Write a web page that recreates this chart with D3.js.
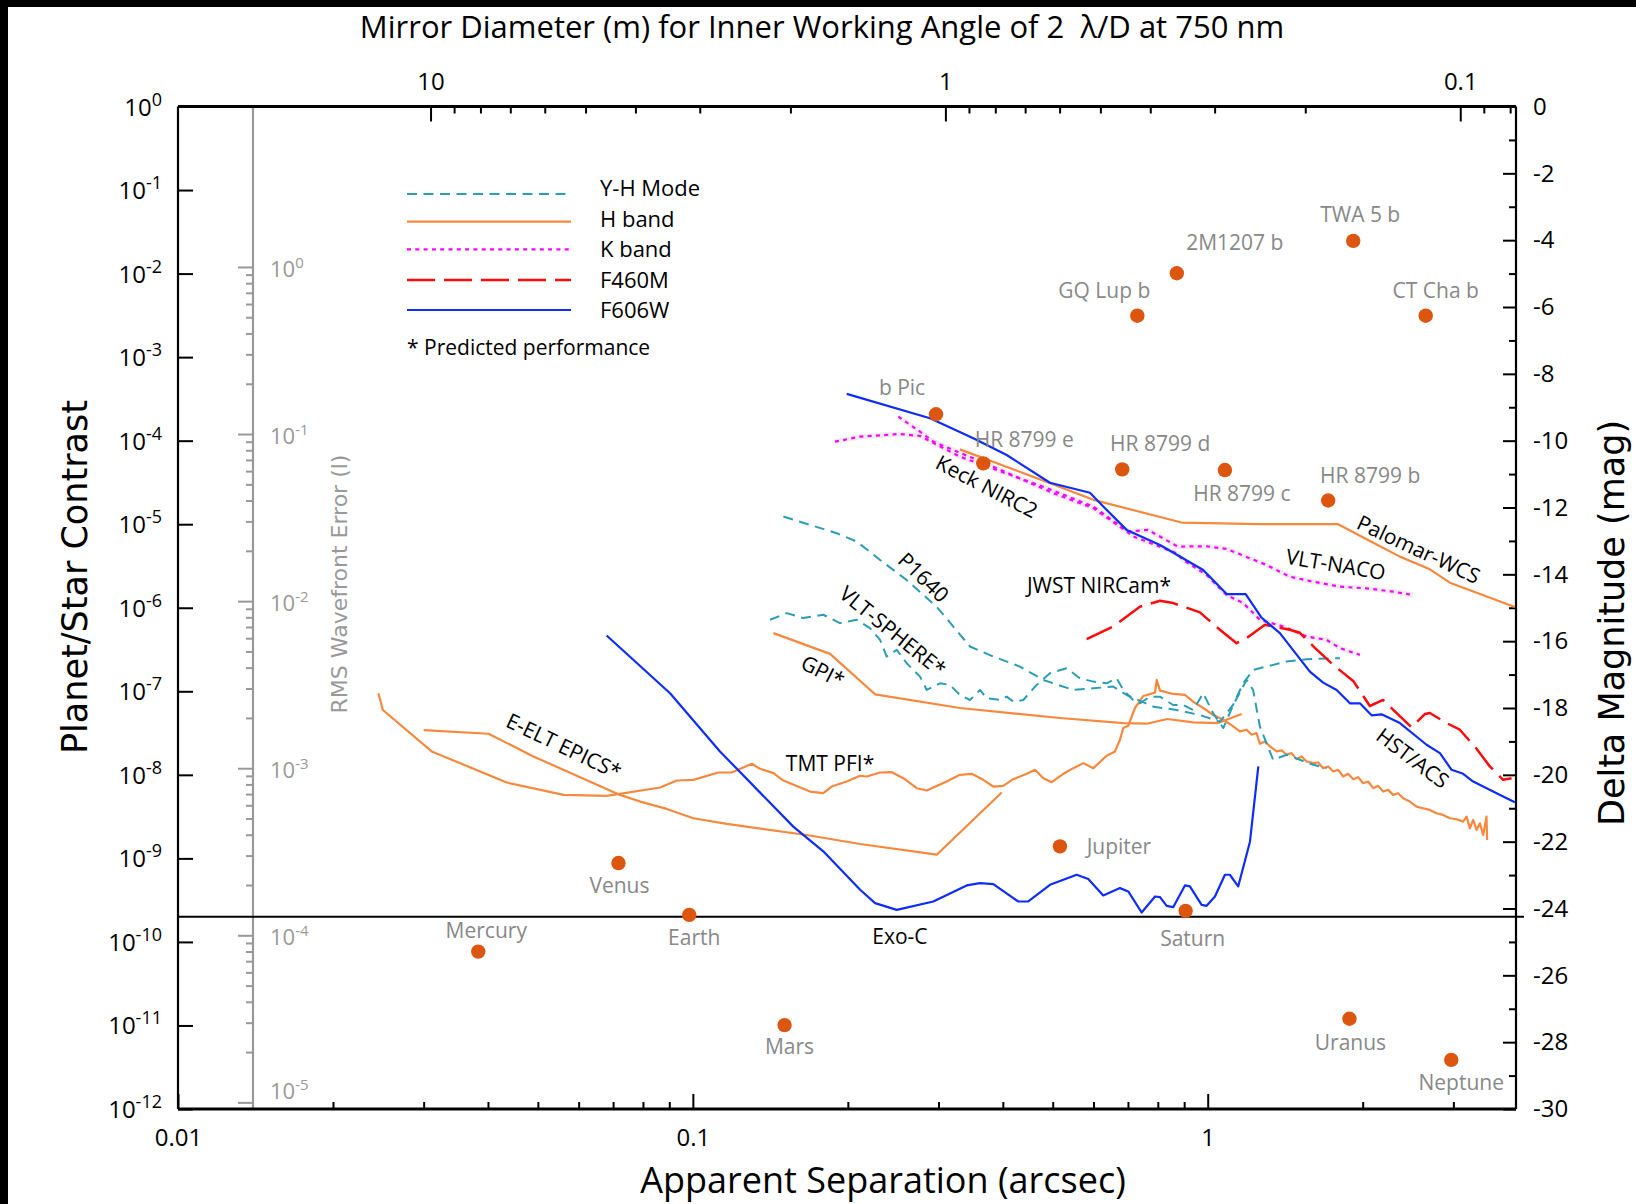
<!DOCTYPE html>
<html>
<head>
<meta charset="utf-8">
<script src="https://cdn.jsdelivr.net/npm/d3@7"></script>
<style>
  body { margin: 0; background: #fff; }
</style>
</head>
<body>
<script>
// ---- data: [separation (arcsec), delta magnitude] ----
const eeltEpics = [[0.0300,-18.66],[0.0401,-18.77],[0.049,-19.45],[0.0722,-20.60],[0.0790,-20.80],[0.0890,-21.02],[0.1002,-21.30],[0.1164,-21.47],[0.1664,-21.80],[0.2113,-22.07],[0.2976,-22.39],[0.398,-20.53]];
const tmtPfi = [[0.0245,-17.56],[0.0250,-18.06],[0.0311,-19.30],[0.0435,-20.23],[0.0561,-20.60],[0.0680,-20.63],[0.0864,-20.38],[0.0931,-20.17],[0.1002,-20.15],[0.1121,-19.93],[0.1190,-19.93],[0.1302,-19.67],[0.1351,-19.82],[0.1434,-19.95],[0.1499,-20.17],[0.1689,-20.50],[0.1792,-20.55],[0.1861,-20.35],[0.1990,-20.20],[0.2113,-20.03],[0.2177,-20.05],[0.2310,-19.93],[0.2434,-19.92],[0.2564,-20.10],[0.2721,-20.40],[0.2846,-20.47],[0.3112,-20.20],[0.3302,-20.00],[0.3479,-19.97],[0.3665,-20.15],[0.3833,-20.35],[0.4008,-20.33],[0.4192,-20.13],[0.4450,-19.97],[0.4619,-19.85],[0.4794,-20.10],[0.4978,-20.22],[0.5242,-19.97],[0.5482,-19.80],[0.5733,-19.65],[0.5995,-19.80],[0.6365,-19.43],[0.6605,-19.30],[0.6754,-18.95],[0.6855,-18.60],[0.7010,-18.53],[0.7223,-18.00],[0.7497,-17.64],[0.7901,-17.54],[0.7961,-17.16],[0.8079,-17.48],[0.8570,-17.58],[0.9031,-17.61],[0.9371,-17.81],[0.9801,-18.00],[1.025,-18.21],[1.072,-18.35],[1.121,-18.55],[1.155,-18.70],[1.190,-18.65],[1.217,-18.80],[1.244,-18.75],[1.263,-19.07],[1.292,-19.00],[1.321,-19.15],[1.361,-19.30],[1.392,-19.27],[1.423,-19.40],[1.455,-19.35],[1.488,-19.53],[1.522,-19.45],[1.556,-19.60],[1.603,-19.65],[1.639,-19.63],[1.676,-19.80],[1.714,-19.75],[1.753,-19.90],[1.792,-19.85],[1.833,-20.05],[1.874,-19.97],[1.917,-20.13],[1.960,-20.07],[2.004,-20.25],[2.049,-20.20],[2.096,-20.40],[2.143,-20.33],[2.191,-20.50],[2.241,-20.45],[2.292,-20.60],[2.343,-20.55],[2.396,-20.70],[2.470,-20.80],[2.544,-20.95],[2.621,-21.00],[2.701,-21.05],[2.782,-21.15],[2.866,-21.20],[2.953,-21.30],[3.043,-21.33],[3.134,-21.40],[3.183,-21.25],[3.230,-21.60],[3.278,-21.35],[3.328,-21.65],[3.378,-21.45],[3.428,-21.80],[3.479,-21.25],[3.489,-21.95]];
const gpi = [[0.1434,-15.76],[0.1847,-16.38],[0.2259,-17.59],[0.3302,-18.00],[0.5164,-18.30],[0.6855,-18.45],[0.7611,-18.47],[0.8353,-18.33],[0.9371,-18.43],[1.047,-18.45],[1.164,-18.18]];
const palomarWcs = [[0.3302,-10.26],[0.4939,-11.27],[0.5995,-11.77],[0.8897,-12.45],[1.263,-12.50],[1.792,-12.50],[2.035,-12.95],[2.362,-13.47],[2.701,-13.85],[2.953,-14.25],[3.95,-14.98]];
const p1640 = [[0.1499,-12.27],[0.1903,-12.77],[0.2081,-13.02],[0.2310,-13.57],[0.2602,-14.17],[0.2976,-14.97],[0.3454,-16.16],[0.3833,-16.46],[0.4319,-16.76],[0.4794,-17.16],[0.5482,-17.46],[0.5995,-17.41],[0.6554,-17.36],[0.6960,-17.61],[0.7842,-17.96],[0.8700,-18.06],[0.9658,-18.21],[1.056,-18.41],[1.12,-17.91],[1.172,-17.26],[1.226,-16.86],[1.301,-16.76],[1.423,-16.61],[1.556,-16.54],[1.806,-16.51]];
const vltSphere = [[0.1412,-15.36],[0.1522,-15.16],[0.1639,-15.31],[0.1792,-15.21],[0.1931,-15.46],[0.2081,-15.36],[0.2208,-15.61],[0.2310,-15.96],[0.2379,-16.46],[0.2489,-16.26],[0.2602,-16.66],[0.2762,-17.06],[0.2846,-17.46],[0.3020,-17.26],[0.3157,-17.31],[0.3302,-17.61],[0.3454,-17.76],[0.3612,-17.46],[0.3721,-17.71],[0.3949,-17.76],[0.4070,-17.66],[0.4192,-17.81],[0.4383,-17.76],[0.4653,-17.31],[0.4939,-16.96],[0.5321,-16.81],[0.5646,-17.11],[0.5995,-17.21],[0.6365,-17.26],[0.6655,-17.11],[0.6855,-17.46],[0.7165,-17.76],[0.7384,-17.86],[0.7722,-17.66],[0.8079,-17.66],[0.8570,-17.91],[0.8961,-17.91],[0.9371,-18.06],[0.9801,-17.56],[1.025,-18.16],[1.072,-18.60],[1.121,-17.91],[1.190,-17.16],[1.225,-17.46],[1.263,-18.56],[1.340,-19.55],[1.423,-19.40],[1.510,-19.55],[1.603,-19.70],[1.702,-19.80]];
const keckNirc2K = [[0.2506,-9.28],[0.2762,-9.73],[0.2931,-10.03],[0.3833,-10.78],[0.5012,-11.57],[0.5995,-12.02],[0.6960,-12.72],[0.7173,-12.87],[0.8700,-13.37],[0.8961,-13.57],[0.9951,-14.02],[1.088,-14.62],[1.172,-14.86],[1.263,-15.36],[1.402,-15.56],[1.556,-15.86],[1.702,-15.96],[1.806,-16.21],[1.975,-16.41]];
const vltNaco = [[0.1888,-10.03],[0.2113,-9.88],[0.2525,-9.80],[0.2762,-9.86],[0.3302,-10.48],[0.4794,-11.38],[0.5995,-11.97],[0.70,-12.72],[0.7654,-12.67],[0.8750,-13.17],[0.9951,-13.16],[1.088,-13.24],[1.301,-13.72],[1.444,-14.07],[1.603,-14.22],[1.806,-14.37],[2.035,-14.42],[2.292,-14.52],[2.506,-14.62]];
const jwstNircam = [[0.5819,-15.94],[0.6554,-15.56],[0.7384,-14.97],[0.8079,-14.79],[0.8570,-14.86],[0.9658,-15.14],[1.056,-15.66],[1.138,-16.06],[1.190,-15.91],[1.292,-15.51],[1.444,-15.66],[1.510,-15.75],[1.615,-16.20],[1.753,-16.71],[1.917,-17.19],[2.065,-17.94],[2.191,-17.76],[2.488,-18.58],[2.641,-18.18],[2.701,-18.15],[2.910,-18.45],[3.088,-18.65],[3.328,-19.22],[3.532,-19.75],[3.748,-20.15],[3.892,-20.10]];
const hstAcs = [[0.1990,-8.60],[0.2888,-9.33],[0.3505,-9.93],[0.4070,-10.43],[0.4939,-11.26],[0.5906,-11.56],[0.6268,-11.97],[0.6960,-12.67],[0.8079,-13.12],[0.9801,-13.87],[1.088,-14.59],[1.185,-14.59],[1.273,-15.30],[1.381,-15.76],[1.579,-16.91],[1.676,-17.24],[1.780,-17.46],[1.889,-17.86],[1.975,-17.86],[2.081,-18.22],[2.176,-18.19],[2.362,-18.45],[2.661,-19.10],[2.825,-19.35],[2.976,-19.85],[3.134,-19.97],[3.278,-20.20],[3.584,-20.50],[3.748,-20.65],[3.95,-20.82]];
const exoC = [[0.0680,-15.83],[0.0903,-17.56],[0.1129,-19.30],[0.1567,-21.55],[0.1792,-22.29],[0.2113,-23.44],[0.2259,-23.84],[0.2489,-24.04],[0.2931,-23.79],[0.3403,-23.31],[0.3612,-23.24],[0.3833,-23.27],[0.4287,-23.79],[0.4482,-23.79],[0.4939,-23.29],[0.5565,-22.99],[0.5861,-23.12],[0.6268,-23.61],[0.6754,-23.39],[0.7010,-23.49],[0.7442,-24.12],[0.7901,-23.64],[0.8079,-23.66],[0.8322,-23.92],[0.8570,-23.96],[0.9031,-23.31],[0.9235,-23.34],[0.9731,-23.89],[0.9951,-23.92],[1.033,-23.64],[1.080,-22.99],[1.104,-22.99],[1.146,-23.34],[1.208,-22.00],[1.254,-19.75]];

const planetNames = ["b Pic","HR 8799 e","HR 8799 d","HR 8799 c","HR 8799 b","GQ Lup b","2M1207 b","TWA 5 b","CT Cha b","Mercury","Venus","Earth","Mars","Jupiter","Saturn","Uranus","Neptune"];
const planetSep = [0.2967,0.3665,0.6823,1.080,1.714,0.730,0.871,1.917,2.651,0.0383,0.0717,0.0984,0.1507,0.5164,0.906,1.885,2.972];
const planetMag = [-9.21,-10.68,-10.86,-10.88,-11.79,-6.26,-4.99,-4.02,-6.26,-25.29,-22.64,-24.19,-27.49,-22.14,-24.07,-27.30,-28.53];

// curve annotations: [text, sep, mag, rotation]
const annotations = [
  ["E-ELT EPICS*", 0.0562, -19.13, 25.6],
  ["TMT PFI*", 0.1847, -19.66, 0],
  ["GPI*", 0.1790, -16.89, 27],
  ["VLT-SPHERE*", 0.2448, -15.69, 39],
  ["P1640", 0.2811, -14.08, 44],
  ["Keck NIRC2", 0.3726, -11.36, 27.5],
  ["JWST NIRCam*", 0.6148, -14.32, 0],
  ["VLT-NACO", 1.774, -13.69, 9.5],
  ["Palomar-WCS", 2.571, -13.24, 25],
  ["HST/ACS", 2.503, -19.49, 37],
  ["Exo-C", 0.2525, -24.82, 0]
];

const legendLabels = ["Y-H Mode", "H band", "K band", "F460M", "F606W"];
const sepDomain = [0.01, 3.97];
const magDomain = [0, -30];
const contrastDomain = [1, 1e-12];
const exoCFloor = 2e-10;            // horizontal black line (contrast)
const wfeK = 0.012;                 // contrast = wfeK * wfe^2
const mirrorK = 2 * 750e-9 * 206264.8; // D (m) = mirrorK / separation (arcsec)

// ---- styles ----
const band = {
  "Y-H Mode": {color: "#2b9db6", width: 2, dash: "10,6.5"},
  "H band":   {color: "#f7883d", width: 2.2, dash: null},
  "K band":   {color: "#ff00ff", width: 2.2, dash: "4,4.3"},
  "F460M":    {color: "#ff0a0a", width: 2.5, dash: "28,9"},
  "F606W":    {color: "#0d2dff", width: 2.2, dash: null}
};
const curves = [
  [eeltEpics, "H band"], [tmtPfi, "H band"], [gpi, "H band"], [palomarWcs, "H band"],
  [keckNirc2K, "K band"], [vltNaco, "K band"],
  [p1640, "Y-H Mode"], [vltSphere, "Y-H Mode"],
  [jwstNircam, "F460M"], [hstAcs, "F606W"], [exoC, "F606W"]
];
const labelOffsets = {
  "b Pic": [-34,-27], "HR 8799 e": [41,-24], "HR 8799 d": [38,-26], "HR 8799 c": [17,23],
  "HR 8799 b": [42,-25], "GQ Lup b": [-33,-26], "2M1207 b": [58,-31], "TWA 5 b": [7,-27],
  "CT Cha b": [10,-26], "Mercury": [8,-22], "Venus": [1,22], "Earth": [5,22], "Mars": [5,21],
  "Jupiter": [59,0], "Saturn": [7,27], "Uranus": [1,23], "Neptune": [10,22]
};

const W = 1636, H = 1204;
const pL = 178, pR = 1516, pT = 106.5, pB = 1109, grayX = 253;
const font = "'Open Sans', 'Noto Sans', sans-serif";
const wideFont = "'DejaVu Sans', Verdana, sans-serif";

const svg = d3.select("body").append("svg")
    .attr("width", W).attr("height", H)
    .style("font-family", font);

svg.append("rect").attr("width", W).attr("height", H).attr("fill", "#fff");
svg.append("rect").attr("width", W).attr("height", 7).attr("fill", "#000");
svg.append("rect").attr("width", 8).attr("height", H).attr("fill", "#000");

const x = d3.scaleLog().domain(sepDomain).range([pL, pR]);
const xMirror = d3.scaleLog().domain(sepDomain.map(s => mirrorK / s)).range([pL, pR]);
const yMag = d3.scaleLinear().domain(magDomain).range([pT, pB]);
const yContrast = d3.scaleLog().domain(contrastDomain).range([pT, pB]);
const yWfe = d3.scaleLog().domain(contrastDomain.map(c => Math.sqrt(c / wfeK))).range([pT, pB]);

function styleAxis(g, color, width) {
  g.select(".domain").remove();
  g.selectAll(".tick line").attr("stroke", color).attr("stroke-width", width);
  g.selectAll(".tick text").attr("fill", color).style("font-family", font).style("font-size", "24px");
}

// bottom axis
const sepMajor = [0.01, 0.1, 1];
const sepMinor = x.ticks().filter(t => !sepMajor.some(m => Math.abs(m - t) < 1e-9));
svg.append("g").attr("transform", `translate(0,${pB})`)
  .call(d3.axisBottom(x).tickValues(sepMajor).tickSize(-15).tickPadding(20).tickFormat(d3.format("~g")))
  .call(g => styleAxis(g, "#000", 2));
svg.append("g").attr("transform", `translate(0,${pB})`)
  .call(d3.axisBottom(x).tickValues(sepMinor).tickSize(-7).tickFormat(""))
  .call(g => styleAxis(g, "#000", 2));

// top axis (mirror diameter)
const dMajor = [10, 1, 0.1];
const dMinor = d3.scaleLog().domain([0.08, 10]).ticks()
  .filter(t => !dMajor.some(m => Math.abs(m - t) < 1e-9));
svg.append("g").attr("transform", `translate(0,${pT})`)
  .call(d3.axisTop(xMirror).tickValues(dMajor).tickSize(-15).tickPadding(17).tickFormat(d3.format("~g")))
  .call(g => styleAxis(g, "#000", 2));
svg.append("g").attr("transform", `translate(0,${pT})`)
  .call(d3.axisTop(xMirror).tickValues(dMinor).tickSize(-7).tickFormat(""))
  .call(g => styleAxis(g, "#000", 2));

// right axis (delta magnitude)
svg.append("g").attr("transform", `translate(${pR},0)`)
  .call(d3.axisRight(yMag).tickValues(d3.range(0, -31, -2)).tickSize(-13).tickPadding(17).tickFormat(d => String(d)))
  .call(g => styleAxis(g, "#000", 2));
svg.append("g").attr("transform", `translate(${pR},0)`)
  .call(d3.axisRight(yMag).tickValues(d3.range(-1, -30, -2)).tickSize(-7).tickFormat(""))
  .call(g => styleAxis(g, "#000", 2));

// left axis (contrast)
const contrastTicks = d3.range(0, -13, -1).map(e => Math.pow(10, e));
svg.append("g").attr("transform", `translate(${pL},0)`)
  .call(d3.axisLeft(yContrast).tickValues(contrastTicks).tickSize(-15).tickFormat(""))
  .call(g => styleAxis(g, "#000", 2));

function powerLabel(sel, exp, supSize, shift) {
  sel.append("tspan").text("10");
  sel.append("tspan").attr("dy", -shift).style("font-size", supSize + "px").text(exp);
}
contrastTicks.forEach(c => {
  const e = Math.round(Math.log10(c));
  svg.append("text")
    .attr("x", 162).attr("y", yContrast(c) + 9)
    .attr("text-anchor", "end")
    .style("font-size", "24px")
    .call(t => powerLabel(t, String(e), 18, 10));
});

// gray RMS wavefront error axis
const wfeMajor = d3.range(0, -6, -1).map(e => Math.pow(10, e));
const wfeMinor = d3.scaleLog().domain([1e-5, 1]).ticks()
  .filter(t => !wfeMajor.some(m => Math.abs(m - t) / m < 1e-6));
svg.append("line").attr("x1", grayX).attr("x2", grayX).attr("y1", pT).attr("y2", pB)
  .attr("stroke", "#999").attr("stroke-width", 2.2);
svg.append("g").attr("transform", `translate(${grayX},0)`)
  .call(d3.axisLeft(yWfe).tickValues(wfeMajor).tickSize(15).tickFormat(""))
  .call(g => styleAxis(g, "#999", 2));
svg.append("g").attr("transform", `translate(${grayX},0)`)
  .call(d3.axisLeft(yWfe).tickValues(wfeMinor).tickSize(7).tickFormat(""))
  .call(g => styleAxis(g, "#999", 2));
wfeMajor.forEach((w, i) => {
  const e = Math.round(Math.log10(w));
  const lift = i === wfeMajor.length - 1 ? -11 : 2;   // last label kept clear of the frame
  svg.append("text")
    .attr("x", 270).attr("y", yWfe(w) + 8 + lift)
    .attr("fill", "#999")
    .style("font-size", "22px")
    .call(t => powerLabel(t, String(e), 15, 9));
});

// frame
svg.append("line").attr("x1", pL).attr("x2", pR).attr("y1", pT).attr("y2", pT).attr("stroke", "#000").attr("stroke-width", 3);
svg.append("line").attr("x1", pL).attr("x2", pR).attr("y1", pB).attr("y2", pB).attr("stroke", "#000").attr("stroke-width", 3);
svg.append("line").attr("x1", pL).attr("x2", pL).attr("y1", pT).attr("y2", pB).attr("stroke", "#000").attr("stroke-width", 2.2);
svg.append("line").attr("x1", pR).attr("x2", pR).attr("y1", pT).attr("y2", pB).attr("stroke", "#000").attr("stroke-width", 2.2);

// floor line
svg.append("line")
  .attr("x1", pL).attr("x2", pR + 8)
  .attr("y1", yContrast(exoCFloor)).attr("y2", yContrast(exoCFloor))
  .attr("stroke", "#000").attr("stroke-width", 2.2);

// curves
const line = d3.line().x(d => x(d[0])).y(d => yMag(d[1]));
curves.filter(c => c[1] === "K band").forEach(([data]) => {
  svg.append("path").datum(data).attr("d", line)
    .attr("fill", "none").attr("stroke", "#ececec").attr("stroke-width", 5)
    .attr("stroke-linejoin", "round");
});
curves.forEach(([data, b]) => {
  const s = band[b];
  svg.append("path").datum(data).attr("d", line)
    .attr("fill", "none").attr("stroke", s.color).attr("stroke-width", s.width)
    .attr("stroke-dasharray", s.dash).attr("stroke-linejoin", "round");
});

// planets
const planets = planetNames.map((n, i) => ({name: n, sep: planetSep[i], mag: planetMag[i]}));
svg.selectAll("circle.planet").data(planets).join("circle")
  .attr("class", "planet")
  .attr("cx", d => x(d.sep)).attr("cy", d => yMag(d.mag)).attr("r", 7.2)
  .attr("fill", "#dc560f");
svg.selectAll("text.planet").data(planets).join("text")
  .attr("class", "planet")
  .attr("x", d => x(d.sep) + labelOffsets[d.name][0])
  .attr("y", d => yMag(d.mag) + labelOffsets[d.name][1])
  .attr("text-anchor", "middle").attr("dominant-baseline", "central")
  .attr("fill", "#888").style("font-size", "21px")
  .text(d => d.name);

// curve annotations
svg.selectAll("text.anno").data(annotations).join("text")
  .attr("class", "anno")
  .attr("transform", d => `translate(${x(d[1])},${yMag(d[2])}) rotate(${d[3]})`)
  .attr("text-anchor", "middle").attr("dominant-baseline", "central")
  .attr("fill", "#000").style("font-size", "21px")
  .text(d => d[0]);

// legend
const legend = svg.append("g");
const legendLineY = [194, 221.7, 249.3, 280, 310];
const legendTextY = [187, 217.5, 248, 279, 309];
legendLabels.forEach((lab, i) => {
  const s = band[lab];
  legend.append("line").attr("x1", 407).attr("x2", 571).attr("y1", legendLineY[i]).attr("y2", legendLineY[i])
    .attr("stroke", s.color).attr("stroke-width", s.width).attr("stroke-dasharray", s.dash);
  legend.append("text").attr("x", 600).attr("y", legendTextY[i])
    .attr("dominant-baseline", "central").style("font-size", "22px").text(lab);
});
legend.append("text").attr("x", 407).attr("y", 347).attr("dominant-baseline", "central")
  .style("font-size", "21px").text("* Predicted performance");

// titles
svg.append("text").attr("x", 822).attr("y", 26).attr("text-anchor", "middle")
  .attr("dominant-baseline", "central").style("font-size", "31px")
  .text("Mirror Diameter (m) for Inner Working Angle of 2 \u00a0\u03bb/D at 750 nm");
svg.append("text").attr("x", 883).attr("y", 1179).attr("text-anchor", "middle")
  .attr("dominant-baseline", "central").style("font-size", "36px")
  .text("Apparent Separation (arcsec)");
svg.append("text").attr("transform", "translate(75,577) rotate(-90)").attr("text-anchor", "middle")
  .attr("dominant-baseline", "central").style("font-family", wideFont).style("font-size", "35px")
  .text("Planet/Star Contrast");
svg.append("text").attr("transform", "translate(1612,623) rotate(-90)").attr("text-anchor", "middle")
  .attr("dominant-baseline", "central").style("font-family", wideFont).style("font-size", "35px")
  .text("Delta Magnitude (mag)");
svg.append("text").attr("transform", "translate(339,584) rotate(-90)").attr("text-anchor", "middle")
  .attr("dominant-baseline", "central").style("font-family", wideFont).style("font-size", "22px")
  .attr("fill", "#999")
  .text("RMS Wavefront Error (l)");
</script>
</body>
</html>
